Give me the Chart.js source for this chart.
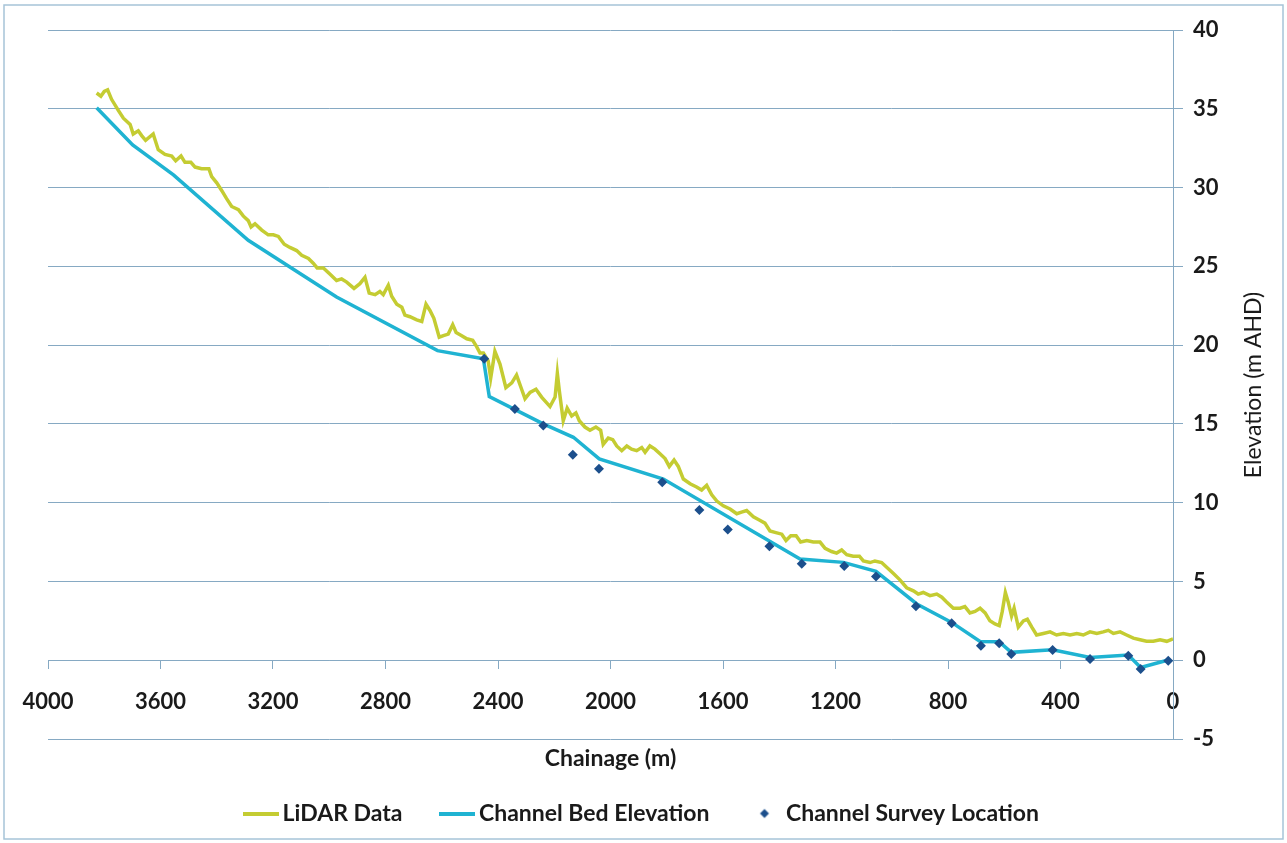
<!DOCTYPE html>
<html>
<head>
<meta charset="utf-8">
<script src="https://cdn.jsdelivr.net/npm/chart.js@4.4.0/dist/chart.umd.min.js"></script>
<style>
  html, body { margin: 0; padding: 0; background: #fff; }
</style>
</head>
<body>
<canvas id="chart" width="1287" height="843"></canvas>
<script>
// LiDAR long section (chainage m, elevation m AHD)
const lidarChainage = [3827, 3812, 3800, 3788, 3774, 3750, 3732, 3708, 3697, 3679, 3667, 3653, 3626, 3608, 3584, 3560, 3546, 3527, 3513, 3492, 3477, 3454, 3428, 3418, 3400, 3382, 3365, 3347, 3323, 3306, 3288, 3278, 3264, 3240, 3217, 3199, 3181, 3160, 3140, 3116, 3098, 3074, 3057, 3043, 3021, 2997, 2974, 2956, 2938, 2912, 2891, 2873, 2858, 2837, 2820, 2808, 2790, 2778, 2760, 2742, 2731, 2713, 2689, 2671, 2656, 2642, 2628, 2609, 2594, 2577, 2561, 2549, 2529, 2511, 2490, 2476, 2464, 2452, 2435, 2426, 2411, 2393, 2372, 2351, 2334, 2316, 2304, 2286, 2265, 2245, 2215, 2197, 2189, 2182, 2168, 2154, 2138, 2123, 2111, 2091, 2073, 2052, 2035, 2026, 2008, 1992, 1978, 1960, 1942, 1925, 1907, 1889, 1877, 1860, 1842, 1824, 1806, 1791, 1774, 1759, 1741, 1717, 1694, 1676, 1658, 1640, 1622, 1599, 1575, 1551, 1534, 1516, 1492, 1471, 1451, 1433, 1412, 1391, 1376, 1359, 1340, 1324, 1302, 1279, 1255, 1237, 1214, 1196, 1178, 1160, 1137, 1115, 1101, 1077, 1060, 1036, 1018, 994, 971, 947, 923, 906, 888, 864, 840, 822, 805, 781, 757, 740, 722, 704, 686, 668, 651, 633, 618, 607, 596, 586, 574, 565, 550, 532, 518, 502, 485, 461, 437, 414, 390, 366, 342, 319, 295, 271, 248, 230, 212, 188, 165, 141, 117, 94, 70, 46, 22, 0];
const lidarElevation = [36.0, 35.8, 36.1, 36.2, 35.6, 34.9, 34.4, 34.0, 33.4, 33.6, 33.3, 33.0, 33.4, 32.4, 32.1, 32.0, 31.7, 32.0, 31.6, 31.6, 31.3, 31.2, 31.2, 30.7, 30.3, 29.8, 29.3, 28.8, 28.6, 28.2, 27.9, 27.5, 27.7, 27.3, 27.0, 27.0, 26.9, 26.4, 26.2, 26.0, 25.7, 25.5, 25.2, 24.9, 24.9, 24.5, 24.1, 24.2, 24.0, 23.6, 23.9, 24.3, 23.3, 23.2, 23.4, 23.2, 23.8, 23.1, 22.6, 22.4, 21.9, 21.8, 21.6, 21.5, 22.6, 22.2, 21.7, 20.5, 20.6, 20.7, 21.3, 20.8, 20.6, 20.4, 20.3, 19.9, 19.5, 19.5, 19.0, 17.9, 19.6, 18.8, 17.3, 17.6, 18.1, 17.2, 16.6, 17.0, 17.2, 16.7, 16.1, 16.7, 18.2, 17.1, 15.2, 16.0, 15.5, 15.7, 15.2, 14.8, 14.6, 14.8, 14.6, 13.7, 14.1, 14.0, 13.6, 13.3, 13.6, 13.4, 13.3, 13.5, 13.2, 13.6, 13.4, 13.1, 12.8, 12.3, 12.7, 12.3, 11.5, 11.2, 11.0, 10.8, 11.1, 10.5, 10.1, 9.8, 9.6, 9.3, 9.4, 9.5, 9.1, 8.9, 8.7, 8.2, 8.1, 8.0, 7.6, 7.9, 7.9, 7.5, 7.6, 7.5, 7.5, 7.1, 6.9, 6.8, 7.0, 6.7, 6.6, 6.6, 6.3, 6.2, 6.3, 6.2, 5.9, 5.5, 5.1, 4.6, 4.4, 4.2, 4.3, 4.1, 4.2, 4.0, 3.7, 3.3, 3.3, 3.4, 3.0, 3.1, 3.3, 3.0, 2.5, 2.3, 2.2, 3.1, 4.3, 3.7, 2.8, 3.3, 2.1, 2.5, 2.6, 2.1, 1.6, 1.7, 1.8, 1.6, 1.7, 1.6, 1.7, 1.6, 1.8, 1.7, 1.8, 1.9, 1.7, 1.8, 1.6, 1.4, 1.3, 1.2, 1.2, 1.3, 1.2, 1.35];

// Channel bed profile
const bedChainage = [3827, 3699, 3554, 3288, 2974, 2615, 2452, 2431, 2239, 2132, 2040, 1812, 1326, 1172, 1056, 911, 787, 686, 618, 575, 428, 295, 159, 115, 17];
const bedElevation = [35.06, 32.7, 30.8, 26.65, 23.05, 19.65, 19.14, 16.74, 15.0, 14.15, 12.78, 11.5, 6.43, 6.21, 5.64, 3.57, 2.4, 1.19, 1.18, 0.5, 0.67, 0.18, 0.33, -0.46, 0.01];

// Surveyed points
const surveyChainage = [2449, 2340, 2239, 2134, 2041, 1816, 1684, 1583, 1435, 1320, 1169, 1056, 914, 787, 683, 618, 575, 428, 295, 159, 115, 17];
const surveyElevation = [19.14, 15.95, 14.9, 13.04, 12.15, 11.3, 9.54, 8.29, 7.23, 6.13, 5.98, 5.32, 3.42, 2.34, 0.92, 1.07, 0.39, 0.65, 0.08, 0.29, -0.56, -0.03];

const seriesNames = ["LiDAR Data", "Channel Bed Elevation", "Channel Survey Location"];
const xMin = 0, xMax = 4000, xStep = 400;
const yMin = -5, yMax = 40, yStep = 5;

const gridColor = "#86a9c3";
const textColor = "#1a1a1a";
const lidarColor = "#c4cc32";
const bedColor = "#1fb3d2";
const surveyColor = "#1c4f8c";

const toPoints = (xs, ys) => xs.map((x, i) => ({ x: x, y: ys[i] }));

// legend samples: short thick line / small diamond
function lineSample(color) {
  const c = document.createElement("canvas");
  c.width = 36;
  c.height = 4;
  const g = c.getContext("2d");
  g.fillStyle = color;
  g.fillRect(0, 0, 36, 4);
  return c;
}
const diamond = document.createElement("canvas");
diamond.width = 12;
diamond.height = 12;
const dctx = diamond.getContext("2d");
dctx.fillStyle = surveyColor;
dctx.beginPath();
dctx.moveTo(6, 1.5);
dctx.lineTo(10.5, 6);
dctx.lineTo(6, 10.5);
dctx.lineTo(1.5, 6);
dctx.closePath();
dctx.fill();
const legendSamples = [lineSample(lidarColor), lineSample(bedColor), diamond];

const frame = {
  id: "frame",
  beforeDraw(chart) {
    const ctx = chart.ctx;
    ctx.save();
    ctx.fillStyle = "#fff";
    ctx.fillRect(0, 0, chart.width, chart.height);
    ctx.strokeStyle = "#a6c4d8";
    ctx.lineWidth = 1.5;
    ctx.strokeRect(4, 5, 1279, 834);
    ctx.restore();
  },
  afterDraw(chart) {
    const ctx = chart.ctx;
    ctx.save();
    ctx.translate(1254, 385);
    ctx.rotate(-Math.PI / 2);
    ctx.fillStyle = textColor;
    ctx.font = "23px Lato";
    ctx.textAlign = "center";
    ctx.textBaseline = "middle";
    ctx.fillText("Elevation (m AHD)", 0, 0);
    ctx.restore();
  }
};

const ctx = document.getElementById("chart").getContext("2d");
new Chart(ctx, {
  type: "scatter",
  data: {
    datasets: [
      {
        label: seriesNames[0],
        data: toPoints(lidarChainage, lidarElevation),
        showLine: true,
        borderColor: lidarColor,
        backgroundColor: lidarColor,
        borderWidth: 3.5,
        pointRadius: 0,
        order: 2
      },
      {
        label: seriesNames[1],
        data: toPoints(bedChainage, bedElevation),
        showLine: true,
        borderColor: bedColor,
        backgroundColor: bedColor,
        borderWidth: 3.5,
        pointRadius: 0,
        order: 1
      },
      {
        label: seriesNames[2],
        data: toPoints(surveyChainage, surveyElevation),
        showLine: false,
        pointStyle: "rectRot",
        pointRadius: 5,
        borderWidth: 0,
        backgroundColor: surveyColor,
        borderColor: surveyColor,
        order: 0
      }
    ]
  },
  options: {
    responsive: false,
    animation: false,
    devicePixelRatio: 1,
    layout: {
      autoPadding: false,
      padding: { left: 3, right: 0, top: 30, bottom: 8 }
    },
    plugins: {
      tooltip: { enabled: false },
      legend: {
        position: "bottom",
        labels: {
          usePointStyle: true,
          pointStyleWidth: 20,
          padding: 45,
          color: textColor,
          font: { family: "Lato", size: 23, weight: "bold" },
          sort: (a, b) => a.datasetIndex - b.datasetIndex,
          generateLabels(chart) {
            const items = Chart.defaults.plugins.legend.labels.generateLabels(chart);
            items.forEach((item) => {
              item.pointStyle = legendSamples[item.datasetIndex];
            });
            return items;
          }
        }
      }
    },
    scales: {
      x: {
        type: "linear",
        reverse: true,
        min: xMin,
        max: xMax,
        position: { y: 0 },
        ticks: {
          stepSize: xStep,
          padding: 20,
          maxRotation: 0,
          color: textColor,
          font: { family: "Lato", size: 22, weight: "bold" },
          callback: (v) => String(v)
        },
        grid: { drawOnChartArea: false, drawTicks: true, tickLength: 8, color: gridColor },
        border: { color: gridColor, width: 1 },
        title: {
          display: true,
          text: "Chainage (m)",
          color: textColor,
          font: { family: "Lato", size: 23, weight: "bold" },
          padding: { top: 10, bottom: 0 }
        }
      },
      xb: {
        type: "linear",
        position: "bottom",
        ticks: { display: false },
        grid: { display: false, drawTicks: false },
        border: { display: false },
        afterFit(scale) { scale.height = 18; }
      },
      y: {
        type: "linear",
        position: "right",
        min: yMin,
        max: yMax,
        ticks: {
          stepSize: yStep,
          padding: 10,
          color: textColor,
          font: { family: "Lato", size: 22, weight: "bold" },
          callback: (v) => String(v)
        },
        grid: { color: gridColor, tickLength: 10 },
        border: { color: gridColor, width: 1 },
        afterFit(scale) { scale.width = 114; }
      },
      yl: {
        type: "linear",
        position: "left",
        ticks: { display: false },
        grid: { display: false, drawTicks: false },
        border: { display: false },
        afterFit(scale) { scale.width = 45; }
      }
    }
  },
  plugins: [frame]
});
</script>
</body>
</html>
